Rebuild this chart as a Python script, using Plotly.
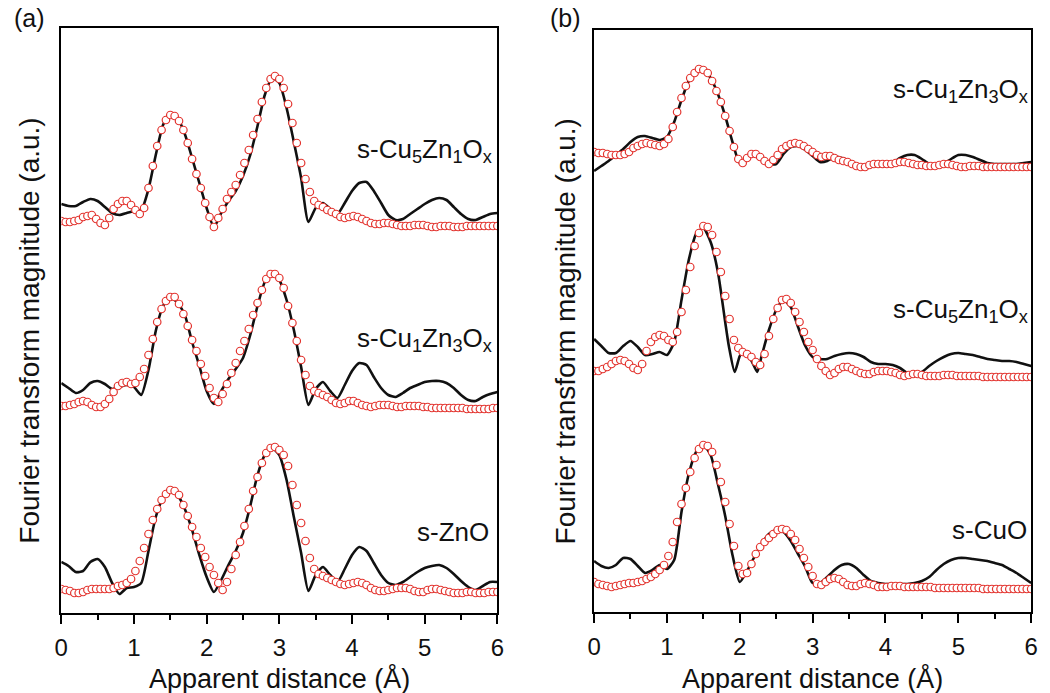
import plotly.graph_objects as go

W, H = 1050, 693
FONT = "Liberation Sans, Arial, Helvetica, sans-serif"

# ---------------- data ----------------
# R grid of the fitted points and of the measured curves (Å)
fit_r = [round(0.06 * i, 2) for i in range(101)]
data_r = [round(0.1 * i, 1) for i in range(61)]

# ---- panel (a) ----
a_cu5zn1_data = [409, 407, 407, 411, 414, 412, 406, 400, 398, 400, 402, 403, 424, 458, 488, 500, 495, 479, 455, 430,
                 405, 386, 400, 412, 422, 437, 458, 487, 518, 535, 530, 505, 471, 435, 391, 405, 410, 404, 399, 410,
                 422, 430, 431, 422, 410, 398, 393, 394, 399, 404, 409, 413, 415, 413, 406, 399, 394, 393, 396, 399, 400]
a_cu5zn1_fit = [392, 391, 391, 392, 393, 396, 397, 398, 394, 390, 388, 395, 404, 409, 412, 412, 408, 403, 399, 405,
                425, 447, 467, 483, 493, 498, 497, 492, 483, 470, 454, 439, 425, 410, 396, 386, 395, 404, 414, 421,
                428, 438, 450, 463, 478, 494, 511, 525, 534, 537, 534, 525, 509, 490, 470, 450, 434, 421, 412, 408,
                406, 403, 401, 399, 396, 395, 396, 397, 396, 394, 392, 390, 389, 389, 390, 390, 389, 388, 387, 387,
                387, 388, 388, 388, 387, 386, 386, 387, 387, 387, 386, 386, 386, 387, 387, 387, 387, 387, 387, 387, 387]

a_cu1zn3_data = [230, 225, 220, 223, 230, 232, 229, 224, 226, 228, 226, 218, 243, 282, 307, 316, 310, 298, 271, 247,
                 222, 209, 222, 234, 244, 255, 278, 307, 331, 340, 333, 313, 283, 246, 208, 224, 231, 222, 215, 228,
                 242, 250, 248, 236, 225, 218, 216, 220, 225, 228, 231, 232, 232, 230, 225, 218, 213, 212, 216, 219, 221]
a_cu1zn3_fit = [207, 207, 208, 209, 211, 212, 211, 208, 206, 206, 209, 214, 221, 227, 230, 231, 229, 230, 236, 244,
                258, 274, 291, 304, 312, 316, 316, 309, 299, 287, 273, 262, 249, 237, 225, 215, 211, 219, 229, 240,
                250, 262, 272, 284, 298, 310, 323, 334, 339, 339, 335, 325, 307, 290, 272, 253, 238, 227, 222, 220,
                218, 216, 213, 210, 209, 210, 212, 212, 210, 208, 207, 206, 207, 208, 208, 208, 207, 206, 206, 207,
                207, 207, 207, 206, 206, 205, 205, 205, 205, 205, 205, 205, 205, 204, 204, 204, 204, 204, 204, 205, 205]

a_zno_data = [51, 47, 41, 42, 51, 54, 46, 30, 19, 25, 26, 30, 62, 96, 115, 122, 118, 104, 83, 58,
              36, 21, 33, 48, 62, 80, 107, 138, 158, 165, 158, 133, 96, 60, 22, 38, 46, 38, 31, 44,
              58, 66, 62, 50, 38, 30, 28, 31, 36, 41, 45, 47, 48, 45, 39, 32, 26, 23, 27, 31, 31]
a_zno_fit = [24, 23, 22, 20, 20, 21, 23, 24, 24, 24, 24, 24, 25, 27, 28, 30, 34, 42, 52, 65,
             79, 93, 104, 113, 119, 123, 122, 118, 108, 97, 86, 76, 65, 56, 46, 38, 30, 23, 31, 44,
             58, 71, 87, 104, 122, 136, 150, 160, 165, 166, 163, 158, 147, 128, 108, 90, 72, 55, 44, 39,
             37, 35, 33, 31, 29, 28, 29, 30, 31, 30, 28, 25, 23, 22, 22, 23, 24, 25, 25, 25,
             24, 22, 21, 21, 23, 24, 24, 23, 22, 21, 20, 20, 20, 21, 21, 20, 20, 20, 21, 21, 21]

# ---- panel (b) ----
b_cu1zn3_data = [441, 446, 451, 457, 463, 470, 475, 476, 474, 472, 475, 490, 512, 531, 540, 542, 534, 518, 496, 470,
                 449, 454, 458, 454, 448, 448, 458, 465, 466, 462, 456, 450, 451, 455, 454, 451, 447, 446, 446, 446,
                 446, 449, 454, 457, 457, 453, 448, 446, 448, 453, 457, 457, 455, 452, 449, 448, 448, 448, 448, 449, 450]
b_cu1zn3_fit = [460, 459, 459, 458, 457, 457, 457, 458, 460, 464, 466, 468, 469, 468, 467, 466, 468, 473, 485, 500,
                514, 526, 534, 539, 543, 542, 539, 531, 521, 510, 496, 481, 465, 453, 449, 454, 458, 458, 455, 451,
                448, 452, 457, 463, 466, 468, 469, 468, 466, 463, 460, 457, 455, 456, 456, 454, 452, 451, 450, 448,
                446, 445, 445, 447, 448, 448, 448, 448, 448, 449, 450, 450, 449, 448, 447, 447, 446, 446, 446, 447,
                448, 448, 447, 446, 445, 445, 446, 446, 446, 445, 445, 445, 445, 445, 445, 445, 445, 445, 445, 445, 445]

b_cu5zn1_data_r = [0.0, 0.1, 0.2, 0.3, 0.4, 0.5, 0.6, 0.7, 0.8, 0.9, 1.0, 1.1, 1.2, 1.3, 1.4, 1.5, 1.6, 1.7, 1.8,
                   1.85, 1.93, 2.0, 2.05, 2.1, 2.17, 2.24, 2.3,
                   2.4, 2.5, 2.6, 2.7, 2.8, 2.9, 3.0, 3.1, 3.2, 3.3, 3.4, 3.5, 3.6, 3.7, 3.8, 3.9,
                   4.0, 4.1, 4.2, 4.3, 4.4, 4.5, 4.6, 4.7, 4.8, 4.9, 5.0, 5.1, 5.2, 5.3, 5.4, 5.5,
                   5.6, 5.7, 5.8, 5.9, 6.0]
b_cu5zn1_data = [273, 266, 259, 259, 266, 271, 265, 257, 258, 260, 257, 270, 312, 352, 378, 384, 370, 340, 290,
                 266, 240, 256, 261, 258, 250, 240, 256,
                 282, 302, 312, 305, 285, 266, 255, 253, 253, 256, 258, 259, 258, 255, 250, 248,
                 248, 247, 244, 239, 238, 240, 246, 251, 255, 258, 259, 258, 257, 255, 253, 252,
                 251, 251, 250, 248, 246]
b_cu5zn1_fit = [241, 241, 243, 245, 248, 251, 252, 251, 248, 244, 242, 248, 261, 270, 275, 277, 276, 272, 270, 280,
                300, 322, 345, 366, 379, 386, 385, 377, 360, 340, 316, 293, 272, 264, 260, 258, 255, 250, 247, 258,
                276, 293, 304, 312, 313, 309, 300, 290, 280, 270, 262, 253, 246, 241, 237, 239, 243, 245, 245, 243,
                241, 239, 238, 238, 240, 241, 241, 241, 240, 239, 237, 236, 237, 238, 238, 237, 236, 236, 236, 236,
                237, 237, 237, 236, 236, 236, 236, 236, 236, 235, 235, 235, 235, 235, 235, 235, 235, 235, 235, 235, 235]

b_cuo_data = [51, 46, 44, 47, 54, 53, 46, 39, 42, 47, 43, 52, 100, 138, 160, 167, 157, 128, 96, 57,
              30, 41, 55, 68, 78, 82, 80, 71, 58, 45, 29, 29, 35, 42, 47, 48, 44, 37, 31, 29,
              28, 28, 28, 28, 29, 31, 35, 42, 48, 52, 54, 54, 53, 52, 51, 49, 47, 43, 39, 34, 29]
b_cuo_fit = [30, 28, 27, 26, 25, 26, 27, 28, 29, 29, 30, 31, 33, 35, 38, 42, 47, 56, 70, 90,
             108, 124, 140, 154, 163, 167, 166, 160, 147, 130, 110, 88, 66, 46, 38, 39, 48, 58, 65, 70,
             74, 78, 82, 83, 82, 78, 72, 63, 54, 45, 36, 28, 27, 30, 33, 34, 33, 30, 27, 26,
             26, 28, 29, 28, 27, 25, 25, 25, 26, 26, 26, 25, 25, 25, 25, 25, 25, 25, 24, 24,
             24, 24, 24, 24, 24, 24, 24, 24, 24, 23, 23, 23, 23, 23, 23, 23, 23, 23, 23, 23, 23]

labels_a = ["s-Cu<sub>5</sub>Zn<sub>1</sub>O<sub>x</sub>", "s-Cu<sub>1</sub>Zn<sub>3</sub>O<sub>x</sub>", "s-ZnO"]
labels_b = ["s-Cu<sub>1</sub>Zn<sub>3</sub>O<sub>x</sub>", "s-Cu<sub>5</sub>Zn<sub>1</sub>O<sub>x</sub>", "s-CuO"]
x_ticks = [0, 1, 2, 3, 4, 5, 6]

# ---------------- figure ----------------
def px(x):
    return x / W


def py(y):
    return 1 - y / H


LINE_COLOR = "#111111"
FIT_COLOR = "#e3342f"

fig = go.Figure()

panels = [
    ("x", "y", [(data_r, a_cu5zn1_data, a_cu5zn1_fit),
                (data_r, a_cu1zn3_data, a_cu1zn3_fit),
                (data_r, a_zno_data, a_zno_fit)]),
    ("x2", "y2", [(data_r, b_cu1zn3_data, b_cu1zn3_fit),
                  (b_cu5zn1_data_r, b_cu5zn1_data, b_cu5zn1_fit),
                  (data_r, b_cuo_data, b_cuo_fit)]),
]

for xa, ya, series in panels:
    for rx, dat, fit in series:
        fig.add_trace(go.Scatter(x=rx, y=dat, mode="lines", xaxis=xa, yaxis=ya,
                                 line=dict(color=LINE_COLOR, width=2.6, shape="spline", smoothing=0.6),
                                 showlegend=False, hoverinfo="skip"))
    for rx, dat, fit in series:
        fig.add_trace(go.Scatter(x=fit_r, y=fit, mode="markers", xaxis=xa, yaxis=ya,
                                 marker=dict(symbol="circle", size=7.5, color="white",
                                             line=dict(color=FIT_COLOR, width=1.2)),
                                 showlegend=False, hoverinfo="skip"))

common_x = dict(range=[0, 6], tickmode="array", tickvals=x_ticks, ticks="outside", ticklen=9, tickwidth=1.5,
                tickcolor="black", showline=True, linewidth=1.5, linecolor="black", mirror=True,
                showgrid=False, zeroline=False, tickfont=dict(size=24, color="#111", family=FONT),
                ticklabelstandoff=3,
                minor=dict(dtick=0.5, tick0=0, ticks="outside", ticklen=5, tickwidth=1.5, tickcolor="black",
                           showgrid=False))
common_y = dict(showticklabels=False, ticks="", showline=True, linewidth=1.5, linecolor="black", mirror=True,
                showgrid=False, zeroline=False)

fig.update_layout(
    width=W, height=H,
    margin=dict(l=0, r=0, t=0, b=0),
    paper_bgcolor="white", plot_bgcolor="white",
    font=dict(family=FONT, color="#111"),
    xaxis=dict(domain=[px(55), px(497)], anchor="y", **common_x),
    yaxis=dict(domain=[py(613), py(28)], range=[0, 585], anchor="x", **common_y),
    xaxis2=dict(domain=[px(595), px(1038)], anchor="y2", **common_x),
    yaxis2=dict(domain=[py(612), py(30)], range=[0, 582], anchor="x2", **common_y),
)

ann = []
# panel letters
ann.append(dict(text="(a)", x=px(23), y=py(18), xref="paper", yref="paper", showarrow=False,
                font=dict(size=25), xanchor="center", yanchor="middle"))
ann.append(dict(text="(b)", x=px(566), y=py(18), xref="paper", yref="paper", showarrow=False,
                font=dict(size=25), xanchor="center", yanchor="middle"))
# axis titles
for cx in (276, 816):
    ann.append(dict(text="Apparent distance (Å)", x=px(cx), y=py(678), xref="paper", yref="paper",
                    showarrow=False, font=dict(size=27), xanchor="center", yanchor="middle"))
for cx in (22, 566):
    ann.append(dict(text="Fourier transform magnitude (a.u.)", x=px(cx), y=py(331), xref="paper", yref="paper",
                    showarrow=False, font=dict(size=28), textangle=-90, xanchor="center", yanchor="middle"))
# sample labels
for lab, (rx, cy) in zip(labels_a, [(494, 150), (494, 339), (491, 532)]):
    ann.append(dict(text=lab, x=px(rx), y=py(cy), xref="paper", yref="paper", showarrow=False,
                    font=dict(size=26), xanchor="right", yanchor="middle"))
for lab, (rx, cy) in zip(labels_b, [(1037, 90), (1037, 310), (1036, 530)]):
    ann.append(dict(text=lab, x=px(rx), y=py(cy), xref="paper", yref="paper", showarrow=False,
                    font=dict(size=26), xanchor="right", yanchor="middle"))

fig.update_layout(annotations=ann)

fig.write_html("out.html")
